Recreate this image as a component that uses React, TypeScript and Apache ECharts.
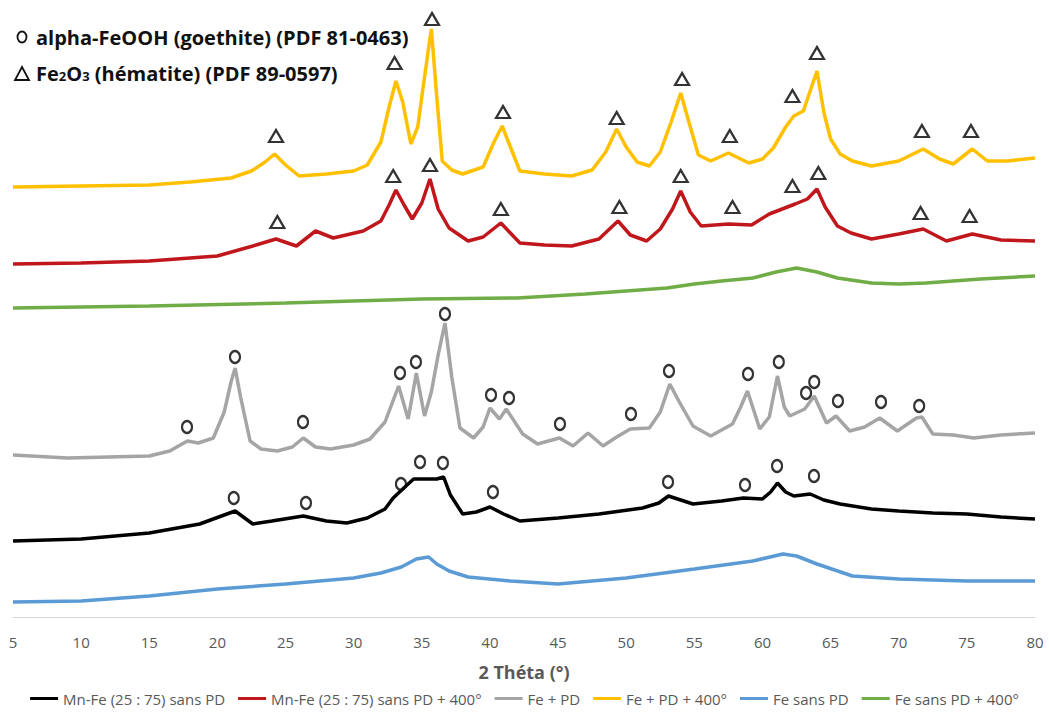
import React, { useEffect, useRef } from "react";
import * as echarts from "echarts";

// Series names and colours (legend order)
const seriesNames = [
  "Mn-Fe (25 : 75) sans PD",
  "Mn-Fe (25 : 75) sans PD + 400°",
  "Fe + PD",
  "Fe + PD + 400°",
  "Fe sans PD",
  "Fe sans PD + 400°",
];
const seriesColors = ["#000000", "#c0171c", "#a5a5a5", "#ffc000", "#5b9bd5", "#70ad47"];

// 2θ (°), intensity (a.u., offset traces)
const mnFeSansPD: [number, number][] = [
  [5, 76], [10, 78], [15, 84], [18.7, 93], [20.9, 104], [21.3, 106], [22.6, 93], [24, 96], [26.3, 101],
  [28, 96], [29.5, 94], [31, 99], [32.3, 108], [32.9, 119], [33.6, 128], [34.4, 138], [35.2, 138],
  [36.1, 138], [36.6, 140], [37.1, 122], [38.0, 103], [39.0, 105], [40.0, 110], [41.0, 103], [42.2, 96],
  [45, 99], [48, 103], [51.2, 109], [52.4, 114], [53.1, 121], [54, 117], [54.9, 113], [57, 116],
  [58.6, 119], [60, 118], [60.6, 125], [61.1, 134], [61.7, 125], [62.3, 121], [63.5, 123], [64.5, 117],
  [65.7, 113], [68, 108], [70, 106], [72.5, 104], [75, 103], [77.5, 100], [80, 98],
];

const mnFeSansPD400: [number, number][] = [
  [5, 353], [10, 354], [15, 356], [20, 361], [22.6, 371], [24.3, 378], [25.8, 371], [27.2, 386],
  [28.5, 379], [30.7, 386], [32, 396], [32.6, 412], [33.1, 427], [33.7, 412], [34.3, 398], [35.0, 414],
  [35.6, 438], [36.2, 408], [37, 389], [38.4, 376], [39.5, 380], [40.8, 394], [41.5, 384], [42.2, 374],
  [44, 372], [46, 371], [48, 378], [49.4, 396], [50.3, 382], [51.5, 376], [52.5, 388], [53.4, 408],
  [54.0, 426], [54.7, 405], [55.5, 391], [57.5, 393], [59.2, 392], [60.5, 403], [62.4, 413], [63.3, 418],
  [64.0, 428], [64.6, 410], [65.5, 391], [66.5, 384], [68, 378], [70, 383], [71.8, 388], [73.5, 376],
  [75.4, 383], [77.5, 377], [80, 376],
];

const fePD: [number, number][] = [
  [5, 162], [9, 159], [12, 160], [15, 161], [16.5, 166], [17.8, 176], [18.6, 174], [19.7, 179],
  [20.5, 205], [21.0, 235], [21.3, 249], [21.7, 220], [22.4, 176], [23.2, 168], [24.4, 166], [25.5, 170],
  [26.3, 179], [27.2, 170], [28.3, 168], [30, 172], [31.2, 178], [32.3, 195], [33.3, 231], [34.0, 198],
  [34.6, 244], [35.2, 201], [35.7, 225], [36.2, 262], [36.7, 294], [37.2, 240], [37.8, 189], [38.8, 179],
  [39.5, 190], [40.0, 209], [40.7, 198], [41.2, 208], [42.4, 183], [43.5, 173], [44.3, 176], [45.1, 179],
  [46.1, 171], [47.2, 184], [48.3, 171], [49.3, 180], [50.3, 188], [51.7, 189], [52.5, 205], [53.2, 233],
  [53.9, 215], [54.9, 191], [56.2, 181], [57.8, 193], [58.4, 210], [58.9, 226], [59.4, 205], [59.8, 188],
  [60.5, 200], [61.1, 241], [61.6, 210], [62.0, 201], [63.1, 208], [63.8, 221], [64.7, 194], [65.4, 201],
  [66.4, 186], [67.5, 190], [68.6, 199], [69.9, 186], [71.3, 199], [71.7, 200], [72.5, 183], [74, 182],
  [75.5, 179], [77.5, 182], [80, 184],
];

const fePD400: [number, number][] = [
  [5, 430], [10, 431], [15, 432], [18, 435], [21, 439], [22.5, 446], [23.5, 455], [24.2, 463], [25, 452],
  [26, 441], [28, 443], [30, 446], [31, 452], [32, 475], [32.6, 510], [33.1, 536], [33.6, 515], [34.2, 473],
  [34.7, 490], [35.2, 540], [35.7, 588], [36.1, 520], [36.5, 456], [37.2, 447], [38, 443], [39.5, 450],
  [40.3, 475], [40.9, 491], [41.5, 470], [42.2, 446], [44, 443], [46, 441], [47.5, 447], [48.5, 465],
  [49.3, 488], [50, 470], [50.8, 455], [51.7, 451], [52.5, 465], [53.3, 495], [54.0, 524], [54.6, 495],
  [55.3, 462], [56.2, 456], [57.5, 464], [59, 454], [60, 458], [60.8, 469], [61.7, 490], [62.3, 501],
  [63, 506], [63.6, 530], [64.0, 546], [64.5, 505], [65, 478], [65.7, 463], [66.6, 456], [68, 451],
  [70, 456], [71.8, 468], [73, 458], [74, 453], [75.4, 468], [76.5, 456], [78, 456], [80, 459],
];

const feSansPD: [number, number][] = [
  [5, 15], [10, 16], [15, 21], [20, 28], [25, 33], [30, 39], [32, 44], [33.5, 50], [34.6, 58], [35.5, 60],
  [36.1, 53], [37, 46], [38.4, 40], [41.5, 36], [45, 33], [50, 39], [55, 48], [59.3, 56], [61.5, 63],
  [62.5, 61], [64, 53], [66.6, 41], [70, 38], [75, 36], [80, 36],
];

const feSansPD400: [number, number][] = [
  [5, 309], [15, 311], [25, 314], [35, 318], [42, 319], [47, 323], [50, 326], [53, 329], [55, 333],
  [57, 336], [59.3, 339], [61, 345], [62.5, 349], [64, 345], [65.5, 339], [68, 334], [70, 333], [72, 334],
  [76, 338], [80, 341],
];

// Phase markers (2θ, height)
const goethiteMarks: [number, number][] = [
  [17.77, 190], [21.29, 260], [26.28, 195], [33.4, 244], [34.57, 255], [36.7, 303], [40.08, 222],
  [41.4, 219], [45.14, 193], [50.35, 203], [53.14, 246], [58.94, 243], [61.2, 255], [63.2, 224],
  [63.8, 235], [65.54, 216], [68.7, 215], [71.5, 211],
  [21.2, 119], [26.5, 114], [33.47, 133], [34.87, 155], [36.55, 154], [40.22, 125], [53.07, 135],
  [58.72, 132], [61.07, 151], [63.78, 141],
];
const hematiteMarks: [number, number][] = [
  [24.3, 481], [33.0, 554], [35.75, 598], [40.96, 505], [49.3, 499], [54.1, 538], [57.6, 481],
  [62.2, 521], [64.0, 564], [71.7, 486], [75.3, 486],
  [24.4, 395], [32.9, 441], [35.6, 452], [40.8, 408], [49.5, 410], [54.0, 441], [57.8, 410],
  [62.2, 431], [64.1, 444], [71.6, 404], [75.2, 401],
];

const seriesData = [mnFeSansPD, mnFeSansPD400, fePD, fePD400, feSansPD, feSansPD400];

const goethiteLabel = "alpha-FeOOH (goethite) (PDF 81-0463)";
const hematiteLabel = "Fe{s|2}O{s|3} (hématite) (PDF 89-0597)";
const xAxisTitle = "2 Théta (°)";

export default function App() {
  const ref = useRef<HTMLDivElement>(null);
  useEffect(() => {
    if (!ref.current) return;
    const chart = echarts.init(ref.current, null, { renderer: "svg" });
    const font = "'Open Sans', 'Noto Sans', sans-serif";
    const lineSeries = seriesNames.map((name, i) => ({
      name,
      type: "line",
      data: seriesData[i],
      showSymbol: false,
      symbol: "none",
      lineStyle: { color: seriesColors[i], width: 3.5 },
      itemStyle: { color: seriesColors[i] },
      z: 2,
    }));
    chart.setOption({
      animation: false,
      backgroundColor: "#ffffff",
      grid: { left: 13, right: 14, top: 11, bottom: 99 },
      xAxis: {
        type: "value",
        min: 5,
        max: 80,
        interval: 5,
        name: xAxisTitle,
        nameLocation: "middle",
        nameGap: 46,
        nameTextStyle: { color: "#595959", fontSize: 18, fontWeight: "bold", fontFamily: font },
        axisLine: { lineStyle: { color: "#d9d9d9", width: 1 } },
        axisTick: { show: false },
        splitLine: { show: false },
        axisLabel: { color: "#595959", fontSize: 15, margin: 17, fontFamily: font },
      },
      yAxis: { type: "value", min: 0, max: 606, show: false },
      legend: {
        data: seriesNames,
        bottom: 5,
        left: "center",
        icon: "rect",
        itemWidth: 28,
        itemHeight: 3,
        itemGap: 13,
        textStyle: { color: "#595959", fontSize: 15, fontFamily: font },
      },
      graphic: [
        {
          type: "ellipse",
          shape: { cx: 22, cy: 37, rx: 4.5, ry: 5.5 },
          style: { fill: "none", stroke: "#111", lineWidth: 1.8 },
        },
        {
          type: "text",
          x: 36,
          y: 37,
          style: {
            text: goethiteLabel,
            fill: "#111",
            font: `bold 20px ${font}`,
            verticalAlign: "middle",
          },
        },
        {
          type: "polygon",
          shape: { points: [[15, 80], [29, 80], [22, 67]] },
          style: { fill: "none", stroke: "#111", lineWidth: 1.8 },
        },
        {
          type: "text",
          x: 36,
          y: 73,
          style: {
            text: hematiteLabel,
            fill: "#111",
            font: `bold 20px ${font}`,
            verticalAlign: "middle",
            rich: {
              s: { fontSize: 13, fontWeight: "bold", fill: "#111", fontFamily: font, padding: [5, 0, 0, 0] },
            },
          },
        },
      ],
      series: [
        ...lineSeries,
        {
          name: "goethite",
          type: "scatter",
          data: goethiteMarks,
          symbol: "circle",
          symbolSize: [10, 12],
          itemStyle: { color: "rgba(255,255,255,0)", borderColor: "#000", borderWidth: 2.3 },
          z: 5,
          silent: true,
        },
        {
          name: "hematite",
          type: "scatter",
          data: hematiteMarks,
          symbol: "triangle",
          symbolSize: [14, 12],
          itemStyle: { color: "rgba(255,255,255,0)", borderColor: "#000", borderWidth: 2.2 },
          z: 5,
          silent: true,
        },
      ],
    });
    return () => chart.dispose();
  }, []);
  return (
    <div
      ref={ref}
      style={{ position: "fixed", left: 0, top: 0, width: 1049, height: 716, background: "#fff" }}
    />
  );
}
